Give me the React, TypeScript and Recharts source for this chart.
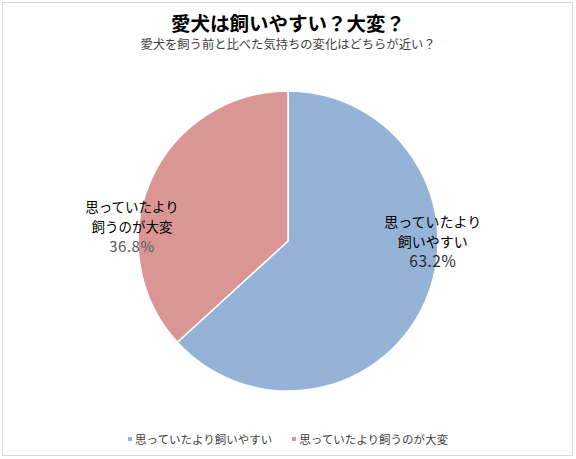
import { PieChart, Pie, Cell, Legend } from "recharts";

const categories = ["思っていたより飼いやすい", "思っていたより飼うのが大変"];
const labelLines = [
  ["思っていたより", "飼いやすい"],
  ["思っていたより", "飼うのが大変"],
];
const shares = [63.2, 36.8];
const colors = ["#95B3D7", "#D99694"];
const pctColors = ["#262626", "#595959"];

const data = categories.map((name, i) => ({ name, value: shares[i] }));

const FONT = '"Noto Sans CJK JP", "Noto Sans", sans-serif';

// label anchors, relative to the pie radius
const labelOffsets = [
  { dx: 0.965, dy: 0.04, size: 14 },
  { dx: -1.04, dy: -0.06, size: 13.5 },
];

function renderLabel(props: any) {
  const { cx, cy, outerRadius, index, value } = props;
  const o = labelOffsets[index];
  const x = cx + o.dx * outerRadius;
  const y = cy + o.dy * outerRadius;
  const lines = labelLines[index];
  return (
    <text x={x} y={y} textAnchor="middle" fontFamily={FONT} fontSize={o.size} fill="#000">
      <tspan x={x} dy={-20}>{lines[0]}</tspan>
      <tspan x={x} dy={20}>{lines[1]}</tspan>
      <tspan x={x} dy={20} fill={pctColors[index]} fontSize={o.size + 1.5} letterSpacing={0.5}>
        {value.toFixed(1)}%
      </tspan>
    </text>
  );
}

function renderLegend(props: any) {
  const { payload } = props;
  return (
    <div style={{ display: "flex", justifyContent: "center", gap: 20, fontFamily: FONT, fontSize: 11.5, color: "#404040" }}>
      {payload.map((p: any, i: number) => (
        <div key={i} style={{ display: "flex", alignItems: "center" }}>
          <span style={{ width: 4, height: 4, background: p.color, display: "inline-block", marginRight: 3 }} />
          <span>{p.value}</span>
        </div>
      ))}
    </div>
  );
}

export default function App() {
  return (
    <div style={{ position: "absolute", left: 0, top: 0, width: 576, height: 459, background: "#fff" }}>
      <div
        style={{
          position: "absolute",
          left: 2,
          top: 2,
          width: 571,
          height: 454,
          border: "1px solid #d9d9d9",
          boxSizing: "border-box",
        }}
      />
      <div
        style={{
          position: "absolute",
          top: 11,
          width: 576,
          textAlign: "center",
          fontFamily: FONT,
          fontWeight: 700,
          fontSize: 19.5,
          lineHeight: "24px",
          color: "#000",
        }}
      >
        愛犬は飼いやすい？大変？
      </div>
      <div
        style={{
          position: "absolute",
          top: 36,
          width: 576,
          textAlign: "center",
          fontFamily: FONT,
          fontSize: 12.3,
          lineHeight: "16px",
          color: "#404040",
        }}
      >
        愛犬を飼う前と比べた気持ちの変化はどちらが近い？
      </div>
      <div style={{ position: "absolute", left: 0, top: 0 }}>
        <PieChart width={576} height={459} margin={{ top: 0, right: 0, bottom: 0, left: 0 }}>
          <Pie
            data={data}
            dataKey="value"
            nameKey="name"
            cx={288}
            cy={241}
            outerRadius={150}
            startAngle={90}
            endAngle={-270}
            stroke="#fff"
            strokeWidth={1.5}
            label={renderLabel}
            labelLine={false}
            isAnimationActive={false}
          >
            {data.map((d, i) => (
              <Cell key={d.name} fill={colors[i]} />
            ))}
          </Pie>
          <Legend
            content={renderLegend}
            verticalAlign="bottom"
            wrapperStyle={{ bottom: 12 }}
          />
        </PieChart>
      </div>
    </div>
  );
}
